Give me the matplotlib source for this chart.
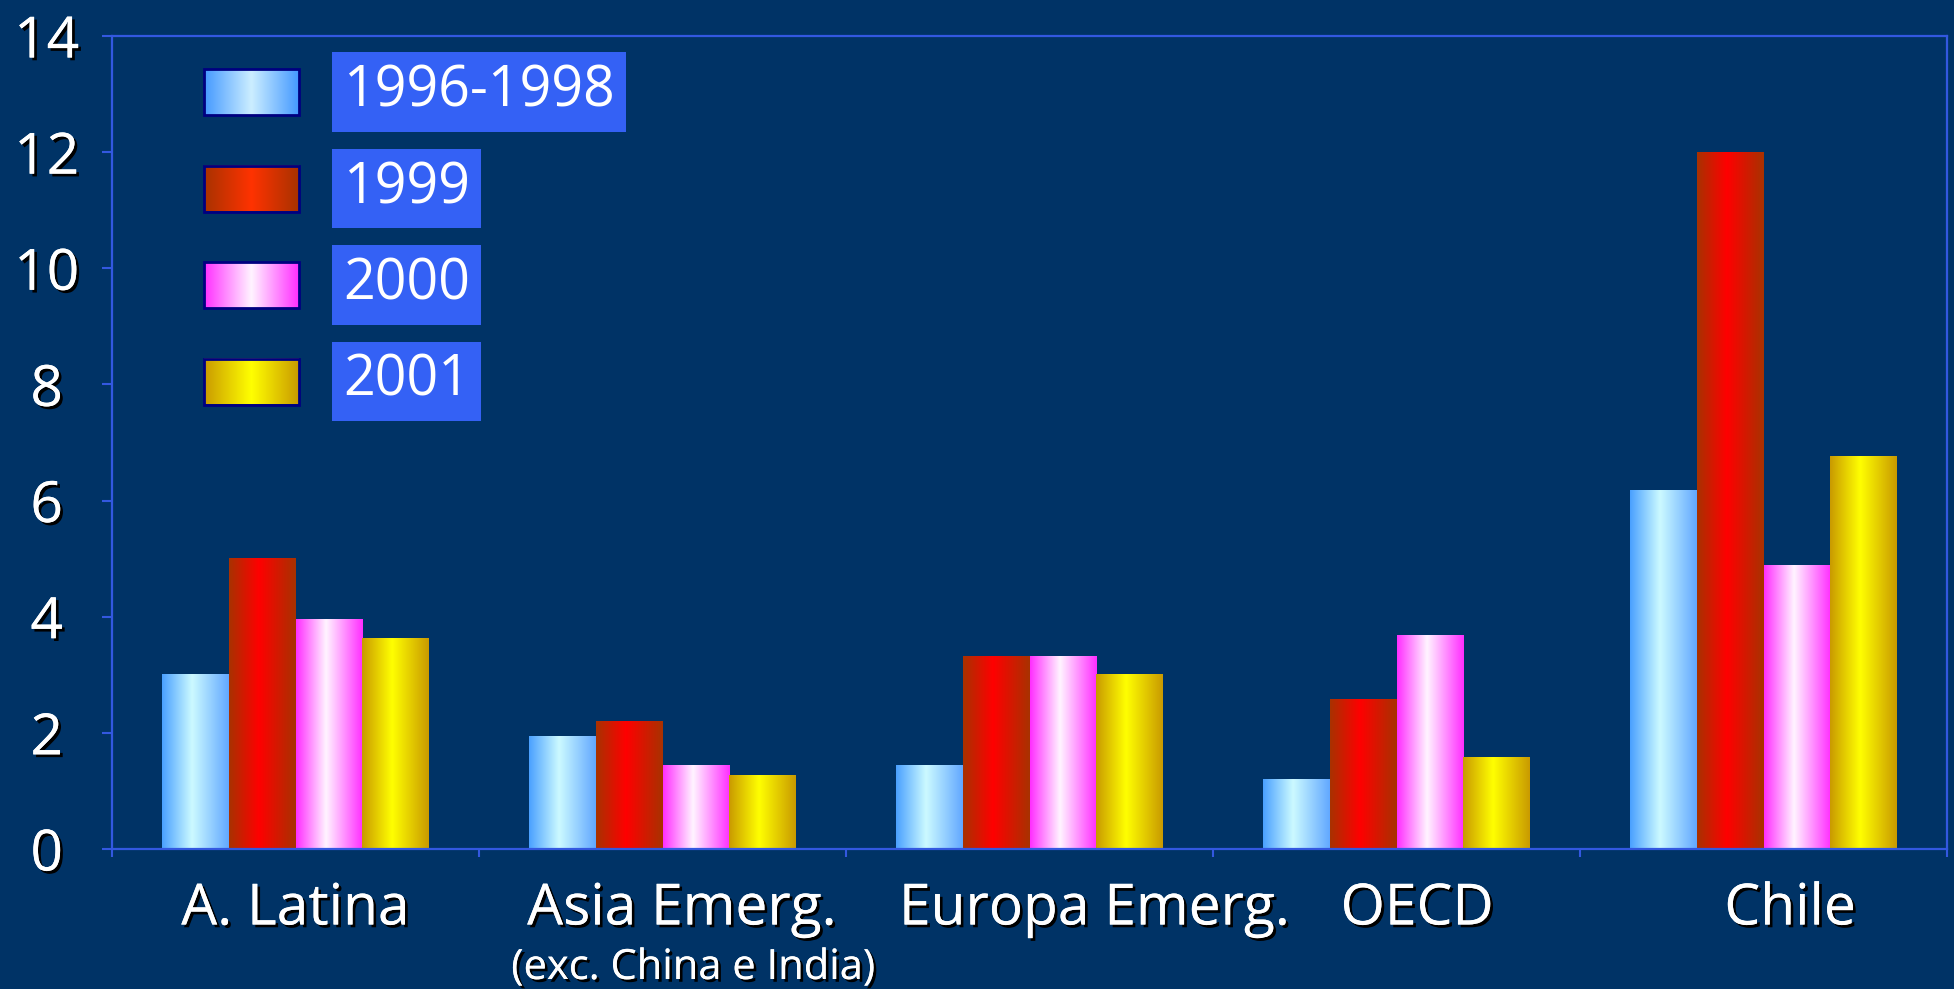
import numpy as np
import matplotlib
matplotlib.use("Agg")
import matplotlib.pyplot as plt
import matplotlib.patheffects as pe
import matplotlib.transforms as mtrans
from matplotlib.colors import LinearSegmentedColormap

# data
categories = ["A. Latina", "Asia Emerg.", "Europa Emerg.", "OECD", "Chile"]
subtitle = "(exc. China e India)"
series_names = ["1996-1998", "1999", "2000", "2001"]
v_9698 = [3.0, 1.93, 1.44, 1.2, 6.18]
v_1999 = [5.0, 2.19, 3.32, 2.57, 12.0]
v_2000 = [3.95, 1.44, 3.32, 3.68, 4.88]
v_2001 = [3.62, 1.27, 3.0, 1.58, 6.76]
y_ticks = [0, 2, 4, 6, 8, 10, 12, 14]

# gradient stops (edge, centre, edge) per series
grad_cols = [
    ["#4aa0ff", "#ccfaff", "#62a8ff"],
    ["#a83200", "#ff0000", "#a83200"],
    ["#ff2eff", "#fff4ff", "#ff2eff"],
    ["#c99a00", "#ffff00", "#c99a00"],
]
legend_cols = [
    ["#4499ff", "#cceeff", "#4499ff"],
    ["#a83200", "#ff3300", "#a83200"],
    ["#ff2eff", "#fff4ff", "#ff2eff"],
    ["#c99a00", "#ffff00", "#c99a00"],
]

BG = "#003366"
LINE = "#3358e0"
FONT = "Open Sans"
W, H = 1954, 989

fig = plt.figure(figsize=(W / 100, H / 100), dpi=100, facecolor=BG)
ax = fig.add_axes([112 / W, 1 - 849 / H, (1947 - 112) / W, (849 - 36) / H])
ax.set_facecolor(BG)

shadow = [pe.withSimplePatchShadow(offset=(2, -2), shadow_rgbFace="black", alpha=1.0), pe.Normal()]

x = np.arange(len(categories))
bw = 0.182
all_vals = [v_9698, v_1999, v_2000, v_2001]
grad = np.linspace(0, 1, 256)[None, :]
for i, vals in enumerate(all_vals):
    cmap = LinearSegmentedColormap.from_list(
        "g%d" % i, [(0, grad_cols[i][0]), (0.45, grad_cols[i][1]), (1, grad_cols[i][2])])
    bars = ax.bar(x + (i - 1.5) * bw, vals, width=bw, facecolor="none", edgecolor="none")
    # fill each bar with a horizontal gradient
    for b in bars:
        x0 = b.get_x()
        ax.imshow(grad, extent=[x0, x0 + b.get_width(), 0, b.get_height()],
                  cmap=cmap, aspect="auto", zorder=2, interpolation="bilinear")

ax.set_xlim(-0.5, len(categories) - 0.5)
ax.set_ylim(0, 14)
ax.set_aspect("auto")

for s in ax.spines.values():
    s.set_color(LINE)
    s.set_linewidth(1.6)

ax.set_yticks(y_ticks)
ax.set_yticklabels([str(t) for t in y_ticks])
ax.tick_params(axis="y", colors=LINE, length=7, width=1.5, pad=40, labelsize=41, labelcolor="white")
for lbl in ax.get_yticklabels():
    lbl.set_ha("center")
    lbl.set_fontfamily(FONT)
    lbl.set_path_effects(shadow)

ax.set_xticks(np.arange(len(categories) + 1) - 0.5)
ax.set_xticklabels([])
ax.tick_params(axis="x", colors=LINE, length=6, width=1.5)

# category labels (placed like the original text boxes)
label_x = [0.0, 1.053, 2.177, 3.057, 4.073]
trans = mtrans.blended_transform_factory(ax.transData, fig.transFigure)
for cx, name in zip(label_x, categories):
    ax.text(cx, 1 - 910 / H, name, transform=trans, ha="center", va="center",
            fontsize=41, family=FONT, color="white", path_effects=shadow)
ax.text(1.084, 1 - 968 / H, subtitle, transform=trans, ha="center", va="center",
        fontsize=30, family=FONT, color="white", path_effects=shadow)

# legend: gradient swatches and blue label boxes
lax = fig.add_axes([0, 0, 1, 1])
lax.axis("off")
for i, name in enumerate(series_names):
    yc = 92 + i * 96.5
    cmap = LinearSegmentedColormap.from_list(
        "l%d" % i, [(0, legend_cols[i][0]), (0.5, legend_cols[i][1]), (1, legend_cols[i][2])])
    lax.imshow(grad, extent=[204, 299, yc + 23, yc - 23], cmap=cmap, aspect="auto",
               interpolation="bilinear", zorder=2)
    lax.add_patch(plt.Rectangle((204, yc - 23), 95, 46, fill=False, edgecolor="#000080",
                                linewidth=2, zorder=3))
    lax.text(343, yc, name, ha="left", va="center", fontsize=40, family=FONT, color="white",
             bbox=dict(boxstyle="square,pad=0.2", facecolor="#3461f5", edgecolor="none"))
lax.set_xlim(0, W)
lax.set_ylim(H, 0)

fig.savefig("out.png", dpi=100, facecolor=BG)
